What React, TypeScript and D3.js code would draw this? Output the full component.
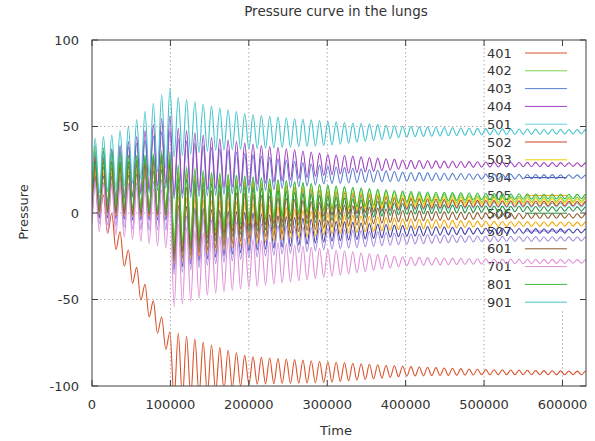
import React, { useEffect, useRef } from 'react';
import * as d3 from 'd3';

const width = 595;
const height = 441;
const margin = { top: 40, right: 9, bottom: 55, left: 92 };

const knotTimes = [0, 25000, 50000, 75000, 99000, 101000, 150000, 200000, 300000, 400000, 500000, 630000];
// one breathing cycle, and the time of the first peak after the step at 100000
const cyclePeriod = 10600;
const firstPeak = 4000;

const seriesNames = ['401', '402', '403', '404', '501', '502', '503', '504', '505', '506', '507', '601', '701', '801', '901'];
const seriesColors = [
	'#d9532c', '#78d456', '#5a7fd0', '#a040c0', '#6ad2da', '#d04020', '#eed000', '#3a3aa8',
	'#f4a800', '#1e9040', '#a88ce0', '#8b5a2b', '#e090d8', '#3cb83c', '#42c4cc',
];

// centre and half swing of each curve at the knot times
const centre401 = [15, -8, -32, -55, -76, -88, -90, -91, -92, -91.5, -92, -92.5];
const swing401 = [10, 8, 7, 7, 7, 20, 14, 8, 6, 2.8, 1.5, 1];
const centre402 = [20, 19, 18, 18, 20, 5, 8, 9, 9, 8.5, 8, 8];
const swing402 = [16, 15, 15, 16, 18, 24, 16, 12, 7, 3, 1.8, 1.2];
const centre403 = [18, 20, 24, 28, 32, 26, 24, 23, 22, 21, 21, 21];
const swing403 = [13, 14, 15, 16, 17, 18, 14, 11, 5, 2.5, 1.5, 1];
const centre404 = [20, 22, 26, 32, 38, 30, 29, 28, 28, 28, 28, 28];
const swing404 = [14, 15, 16, 18, 20, 20, 15, 12, 6, 2.5, 1.5, 1];
const centre501 = [20, 18, 17, 17, 18, 2, 3, 4, 4.6, 4.6, 4.6, 4.6];
const swing501 = [16, 15, 15, 16, 18, 22, 16, 12, 6, 3, 1.6, 1.1];
const centre502 = [18, 16, 15, 15, 16, 0, 3, 5, 5.5, 5.4, 5.4, 5.4];
const swing502 = [15, 14, 14, 15, 17, 24, 17, 13, 7, 3, 1.8, 1.2];
const centre503 = [15, 15, 16, 17, 18, 2, 4, 6, 7, 7, 7, 7];
const swing503 = [12, 13, 14, 15, 16, 22, 16, 12, 6, 3, 1.8, 1.2];
const centre504 = [10, 9, 9, 10, 11, -14, -12, -11, -10.5, -10.4, -10.4, -10.4];
const swing504 = [12, 12, 13, 14, 15, 19, 14, 11, 6, 3, 1.6, 1.1];
const centre505 = [12, 11, 11, 12, 13, -10, -8, -6, -6.4, -6.4, -6.4, -6.4];
const swing505 = [12, 12, 13, 14, 15, 20, 15, 12, 6, 3, 1.6, 1.1];
const centre506 = [16, 15, 15, 16, 17, -2, 0, 2, 2.5, 2.3, 2.3, 2.3];
const swing506 = [14, 14, 15, 16, 17, 23, 17, 13, 7, 3, 1.8, 1.2];
const centre507 = [6, 5, 4, 4, 5, -18, -17, -16, -15, -15, -15, -15];
const swing507 = [12, 12, 13, 14, 15, 18, 13, 10, 6, 3, 1.6, 1.1];
const centre601 = [14, 13, 13, 14, 15, -6, -4, -2, -1.5, -1.7, -1.7, -1.7];
const swing601 = [13, 13, 14, 15, 16, 22, 17, 13, 7, 3, 1.8, 1.2];
const centre701 = [4, 2, 0, -2, -4, -30, -30, -29, -29, -28, -28, -28];
const swing701 = [14, 14, 15, 16, 17, 25, 17, 14, 8, 2.5, 1.5, 1];
const centre801 = [22, 20, 18, 17, 18, 4, 6, 8, 9, 9.5, 9.5, 9.5];
const swing801 = [18, 16, 15, 16, 18, 24, 17, 13, 7, 3, 1.8, 1.2];
const centre901 = [27, 29, 34, 42, 50, 50, 49, 47, 46, 47, 47, 47];
const swing901 = [16, 16, 17, 20, 23, 18, 13, 10, 7, 3, 1.8, 1.2];

const centres = [centre401, centre402, centre403, centre404, centre501, centre502, centre503, centre504,
	centre505, centre506, centre507, centre601, centre701, centre801, centre901];
const swings = [swing401, swing402, swing403, swing404, swing501, swing502, swing503, swing504,
	swing505, swing506, swing507, swing601, swing701, swing801, swing901];

const xTicks = [0, 100000, 200000, 300000, 400000, 500000, 600000];
const yTicks = [-100, -50, 0, 50, 100];
const timeMax = 630000;

const font = "'DejaVu Sans', sans-serif";
const textColor = '#333';

function buildCurve(centre: number[], swing: number[]): [number, number][] {
	const c = d3.scaleLinear().domain(knotTimes).range(centre).clamp(true);
	const s = d3.scaleLinear().domain(knotTimes).range(swing).clamp(true);
	const pts: [number, number][] = [];
	for (let k = -2; ; k++) {
		const t = firstPeak + (k * cyclePeriod) / 2;
		if (t > timeMax + cyclePeriod) break;
		const sign = ((k % 2) + 2) % 2 === 0 ? 1 : -1;
		pts.push([t, c(t) + sign * s(t)]);
	}
	return pts;
}

export default function App() {
	const ref = useRef<SVGSVGElement>(null);

	useEffect(() => {
		const svg = d3.select(ref.current);
		svg.selectAll('*').remove();

		const x = d3.scaleLinear().domain([0, timeMax]).range([margin.left, width - margin.right]);
		const y = d3.scaleLinear().domain([-100, 100]).range([height - margin.bottom, margin.top]);
		const [x0, x1] = x.range();
		const [y0, y1] = [y(100), y(-100)];

		// legend layout (gnuplot keeps the grid out of the key area)
		const keyLeft = 486;
		const keyTop = 53;
		const keyStep = 17.8;
		const keyBottom = keyTop + (seriesNames.length - 1) * keyStep + 9;

		const grid = svg.append('g').attr('stroke', '#9a9a9a').attr('stroke-width', 0.8).attr('stroke-dasharray', '1.5,2.5');
		xTicks.filter(t => t > 0).forEach(t => {
			const px = x(t);
			grid.append('line').attr('x1', px).attr('x2', px).attr('y1', px > keyLeft ? keyBottom : y0).attr('y2', y1);
		});
		yTicks.filter(t => t > -100 && t < 100).forEach(t => {
			const py = y(t);
			const right = py < keyBottom ? keyLeft - 1 : x1;
			grid.append('line').attr('x1', x0).attr('x2', right).attr('y1', py).attr('y2', py);
		});

		svg.append('clipPath').attr('id', 'plot-clip')
			.append('rect').attr('x', x0).attr('y', y0).attr('width', x1 - x0).attr('height', y1 - y0);

		const line = d3.line<[number, number]>()
			.x(d => x(d[0]))
			.y(d => y(d[1]))
			.curve(d3.curveMonotoneX);

		const curves = svg.append('g').attr('clip-path', 'url(#plot-clip)');
		seriesNames.forEach((name, i) => {
			curves.append('path')
				.datum(buildCurve(centres[i], swings[i]))
				.attr('fill', 'none')
				.attr('stroke', seriesColors[i])
				.attr('stroke-width', 1.1)
				.attr('d', line);
		});

		// border and inward ticks on all four sides
		svg.append('rect').attr('x', x0).attr('y', y0).attr('width', x1 - x0).attr('height', y1 - y0)
			.attr('fill', 'none').attr('stroke', '#404040').attr('stroke-width', 1);
		const ticks = svg.append('g').attr('stroke', '#404040').attr('stroke-width', 1);
		xTicks.forEach(t => {
			ticks.append('line').attr('x1', x(t)).attr('x2', x(t)).attr('y1', y1).attr('y2', y1 - 6);
			ticks.append('line').attr('x1', x(t)).attr('x2', x(t)).attr('y1', y0).attr('y2', y0 + 6);
		});
		yTicks.forEach(t => {
			ticks.append('line').attr('x1', x0).attr('x2', x0 + 6).attr('y1', y(t)).attr('y2', y(t));
			ticks.append('line').attr('x1', x1).attr('x2', x1 - 6).attr('y1', y(t)).attr('y2', y(t));
		});

		const labels = svg.append('g').attr('font-family', font).attr('font-size', 13).attr('fill', textColor);
		xTicks.forEach(t => {
			labels.append('text').attr('x', x(t)).attr('y', 409).attr('text-anchor', 'middle').text(String(t));
		});
		yTicks.forEach(t => {
			labels.append('text').attr('x', x0 - 13).attr('y', y(t)).attr('dy', '0.36em').attr('text-anchor', 'end').text(String(t));
		});
		labels.append('text').attr('x', 336).attr('y', 16).attr('text-anchor', 'middle').attr('font-size', 13.5)
			.text('Pressure curve in the lungs');
		labels.append('text').attr('x', 336).attr('y', 435).attr('text-anchor', 'middle').text('Time');
		labels.append('text').attr('transform', 'translate(28,212) rotate(-90)').attr('text-anchor', 'middle').text('Pressure');

		const key = svg.append('g').attr('font-family', font).attr('font-size', 13).attr('fill', textColor);
		seriesNames.forEach((name, i) => {
			const ky = keyTop + i * keyStep;
			key.append('text').attr('x', keyLeft + 1).attr('y', ky).attr('dy', '0.36em').text(name);
			key.append('line').attr('x1', 525).attr('x2', 567).attr('y1', ky).attr('y2', ky)
				.attr('stroke', seriesColors[i]).attr('stroke-width', 1);
		});
		// curves pass over the key text, as in gnuplot output
		key.lower();
		grid.lower();
	}, []);

	return (
		<svg
			ref={ref}
			width={width}
			height={height}
			style={{ position: 'absolute', left: 0, top: 0, background: '#fff' }}
		/>
	);
}
